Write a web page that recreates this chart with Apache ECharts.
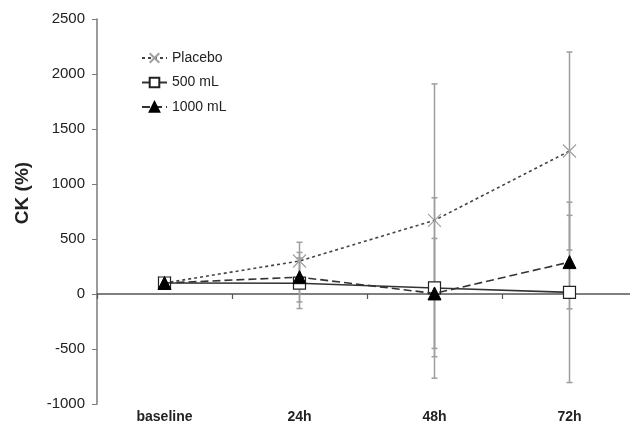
<!DOCTYPE html>
<html>
<head>
<meta charset="utf-8">
<script src="https://cdn.jsdelivr.net/npm/echarts@6/dist/echarts.min.js"></script>
<style>
    html,body{margin:0;padding:0;background:#fff;}
    #chart{width:630px;height:423px;}
</style>
</head>
<body>
<div id="chart"></div>
<script>
// 数据
let categories=['baseline','24h','48h','72h'];
let placebo=[100,300,670,1300];
let placeboSD=[0,170,1240,900];
let ml500=[100,98,55,15];
let ml500SD=[0,230,820,820];
let ml1000=[100,153,5,290];
let ml1000SD=[0,225,500,425];
let yTicks=[-1000,2500,500]; // min, max, interval

// 误差线数据 [x, low, high]
function bars(mean,sd){
    let out=[];
    mean.forEach((m,i)=>{
        if(sd[i]>0){
            out.push([i,m-sd[i],m+sd[i]]);
        }
    });
    return out;
}

function errorBar(params,api){
    let x=api.value(0);
    let lo=api.coord([x,api.value(1)]);
    let hi=api.coord([x,api.value(2)]);
    let w=3;
    let st={stroke:'#9e9e9e',lineWidth:1.5};
    return {
        type:'group',
        children:[
            {type:'line',shape:{x1:lo[0],y1:lo[1],x2:hi[0],y2:hi[1]},style:st},
            {type:'line',shape:{x1:lo[0]-w,y1:lo[1],x2:lo[0]+w,y2:lo[1]},style:st},
            {type:'line',shape:{x1:hi[0]-w,y1:hi[1],x2:hi[0]+w,y2:hi[1]},style:st}
        ]
    };
}

let chart=echarts.init(document.getElementById('chart'));
let font='Liberation Sans, Arial, sans-serif';

let option={
    animation:false,
    backgroundColor:'#fff',
    textStyle:{fontFamily:font},
    grid:{left:97,top:19,bottom:19,right:-7,containLabel:false,outerBoundsMode:'none'},
    legend:{
        orient:'vertical',
        left:141,
        top:51,
        padding:0,
        itemWidth:25,
        itemHeight:12,
        itemGap:10.5,
        data:['Placebo','500 mL','1000 mL'],
        textStyle:{color:'#222',fontSize:14,fontFamily:font}
    },
    graphic:[{
        type:'text',
        x:23,
        y:193,
        rotation:Math.PI/2,
        style:{
            text:'CK (%)',
            font:'bold 19px '+font,
            fill:'#222',
            align:'center',
            verticalAlign:'middle'
        }
    }],
    xAxis:[
        {
            // 底部标签
            type:'category',
            data:categories,
            position:'bottom',
            axisLine:{show:false,onZero:false},
            axisTick:{show:false},
            axisLabel:{color:'#222',fontSize:14,fontWeight:'bold',margin:6}
        },
        {
            // 零线
            type:'category',
            data:categories,
            position:'bottom',
            axisLine:{show:true,onZero:true,lineStyle:{color:'#555',width:1.5}},
            axisTick:{show:true,length:5,lineStyle:{color:'#555',width:1.2}},
            axisLabel:{show:false}
        }
    ],
    yAxis:{
        type:'value',
        min:yTicks[0],
        max:yTicks[1],
        interval:yTicks[2],
        axisLine:{show:true,onZero:false,lineStyle:{color:'#7a7a7a',width:1.5}},
        axisTick:{show:true,length:5,lineStyle:{color:'#7a7a7a'}},
        splitLine:{show:false},
        axisLabel:{color:'#222',fontSize:15,margin:12,formatter:v=>String(v)}
    },
    series:[
        {type:'custom',name:'eb1',renderItem:errorBar,data:bars(placebo,placeboSD),z:1,xAxisIndex:0},
        {type:'custom',name:'eb2',renderItem:errorBar,data:bars(ml500,ml500SD),z:1,xAxisIndex:0},
        {type:'custom',name:'eb3',renderItem:errorBar,data:bars(ml1000,ml1000SD),z:1,xAxisIndex:0},
        {
            name:'Placebo',
            type:'line',
            data:placebo,
            z:3,
            symbol:'path://M0,0L10,10M10,0L0,10',
            symbolSize:13,
            lineStyle:{color:'#444',width:1.6,type:[3,3]},
            itemStyle:{color:'#aaa',borderColor:'#a0a0a0',borderWidth:1.2}
        },
        {
            name:'500 mL',
            type:'line',
            data:ml500,
            z:4,
            symbol:'rect',
            symbolSize:12,
            lineStyle:{color:'#333',width:1.6},
            itemStyle:{color:'#fff',borderColor:'#222',borderWidth:1.2}
        },
        {
            name:'1000 mL',
            type:'line',
            data:ml1000,
            z:5,
            symbol:'triangle',
            symbolSize:13,
            lineStyle:{color:'#333',width:1.6,type:[8,4]},
            itemStyle:{color:'#000',borderColor:'#000',borderWidth:1}
        }
    ]
};
chart.setOption(option);
</script>
</body>
</html>
